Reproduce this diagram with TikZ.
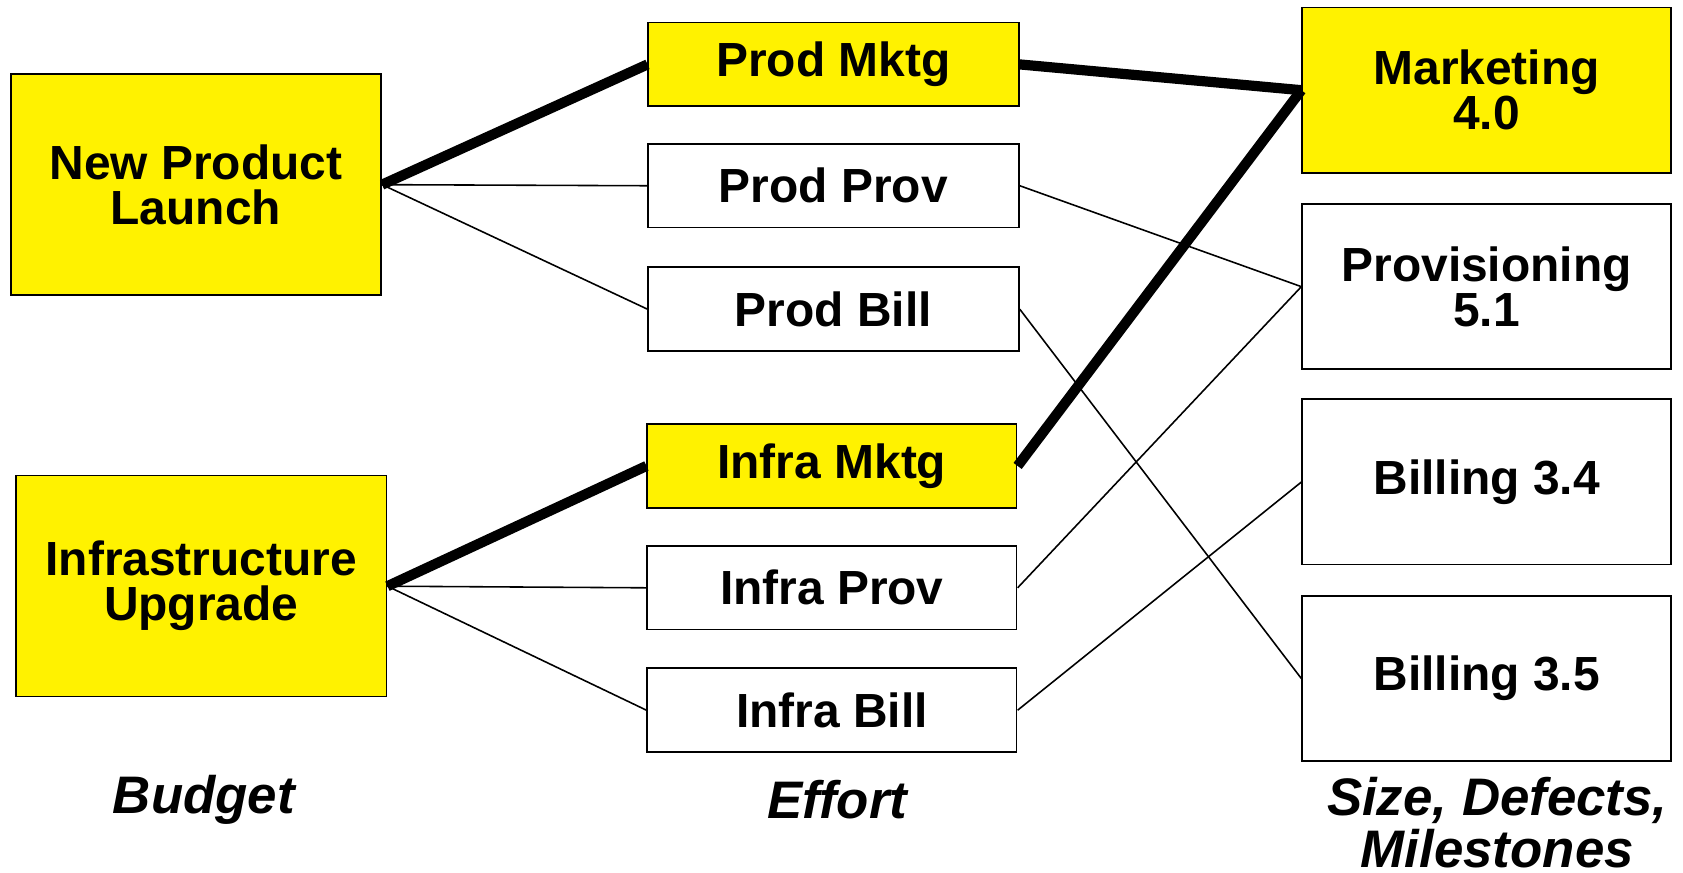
\documentclass[tikz,border=0pt]{standalone}
\usepackage{fontspec}
\setmainfont{Liberation Sans}

\def\boxwidth{3.45cm}

\begin{document}
\begin{tikzpicture}[scale=1.0733, transform shape,
    box/.style={draw=black, line width=0.5pt, minimum width=\boxwidth, inner sep=0pt,
      align=center, font=\fontsize{12.7}{12}\selectfont\bfseries},
    hot/.style={box, fill=yellow},
    cold/.style={box, fill=white},
    big/.style={minimum height=2.06cm},
    mid/.style={minimum height=1.54cm},
    small/.style={minimum height=0.78cm},
    heavy/.style={line width=2.9pt},
    light/.style={line width=0.45pt},
    caption/.style={align=center, font=\fontsize{14}{13.7}\selectfont\bfseries\itshape}
  ]
  \useasboundingbox (0,0) rectangle (15.68,-8.125);

  % budget
  \node [hot, big] (launch) at (1.825,-1.72) {New Product\\Launch};
  \node [hot, big] (upgrade) at (1.875,-5.46) {Infrastructure\\Upgrade};

  % effort
  \node [hot, small] (prodmktg) at (7.765,-0.60) {Prod Mktg};
  \node [cold, small] (prodprov) at (7.765,-1.73) {Prod Prov};
  \node [cold, small] (prodbill) at (7.765,-2.88) {Prod Bill};
  \node [hot, small, minimum width=3.44cm] (inframktg) at (7.75,-4.34) {Infra Mktg};
  \node [cold, small, minimum width=3.44cm] (infraprov) at (7.75,-5.475) {Infra Prov};
  \node [cold, small, minimum width=3.44cm] (infrabill) at (7.75,-6.615) {Infra Bill};

  % releases
  \node [hot, mid, minimum width=3.44cm] (marketing) at (13.85,-0.84) {Marketing\\4.0};
  \node [cold, mid, minimum width=3.44cm] (provisioning) at (13.85,-2.67) {Provisioning\\5.1};
  \node [cold, mid, minimum width=3.44cm] (billa) at (13.85,-4.49) {Billing 3.4};
  \node [cold, mid, minimum width=3.44cm] (billb) at (13.85,-6.32) {Billing 3.5};

  \draw [heavy] (launch.east) -- (prodmktg.west);
  \draw [light] (launch.east) -- (prodprov.west);
  \draw [light] (launch.east) -- (prodbill.west);
  \draw [heavy] (upgrade.east) -- (inframktg.west);
  \draw [light] (upgrade.east) -- (infraprov.west);
  \draw [light] (upgrade.east) -- (infrabill.west);

  \draw [heavy] (prodmktg.east) -- (marketing.west);
  \draw [heavy] (inframktg.east) -- (marketing.west);
  \draw [light] (prodprov.east) -- (provisioning.west);
  \draw [light] (infraprov.east) -- (provisioning.west);
  \draw [light] (prodbill.east) -- (billb.west);
  \draw [light] (infrabill.east) -- (billa.west);

  \node [caption] (budget) at (1.90,-7.45) {Budget};
  \node [caption] (effort) at (7.80,-7.45) {Effort};
  \node [caption, anchor=north] (measures) at (13.95,-7.12) {Size, Defects,\\Milestones};

\end{tikzpicture}
\end{document}
